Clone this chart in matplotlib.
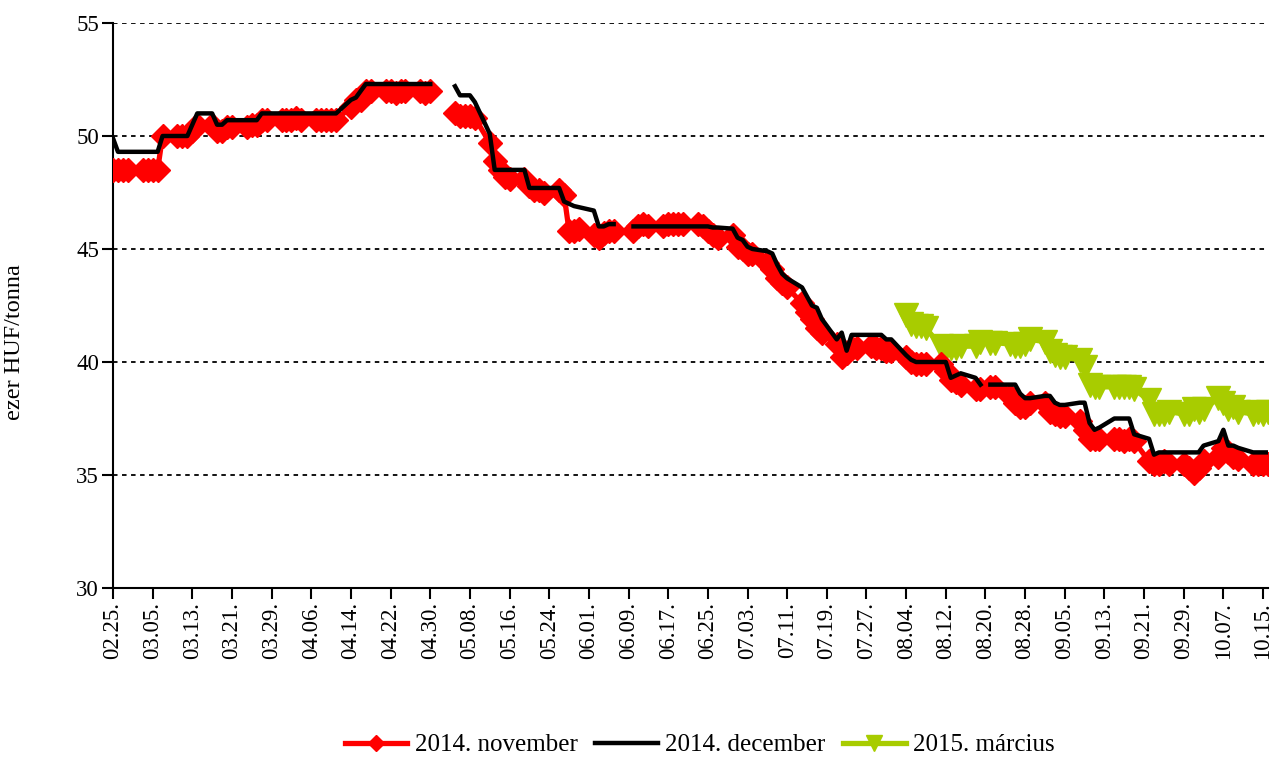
import numpy as np
import pandas as pd
import matplotlib
matplotlib.use('Agg')
import matplotlib.pyplot as plt

plt.rcParams['font.family'] = ['Liberation Serif', 'DejaVu Serif']

nan = np.nan

# trading days 2014.02.25 - 2014.10.16
dates = pd.bdate_range('2014-02-25', '2014-10-16')

# 2014. november contract
nov_feb = [48.5, 48.5, 48.5, 48.5]
nov_mar = [48.5, 48.5, 48.5, 48.5, 50.0, 50.0, 50.0, 50.0, 50.2, 50.5,
           50.5, 50.2, 50.2, 50.4, 50.4, 50.4, 50.5, 50.5, 50.7, 50.7, 50.7]
nov_apr = [50.7, 50.7, 50.8, 50.7, 50.7, 50.7, 50.7, 50.7, 50.7, 51.3, 51.6,
           51.6, 52.0, 52.0, 52.0, 52.0, 51.9, 52.0, 52.0, 52.0, 51.9, 52.0]
nov_may = [nan, nan, 51.0, 50.9, 50.9, 50.9, 50.8, 49.7, 48.9, 48.5, 48.2,
           48.1, 48.1, 47.8, 47.6, 47.6, 47.5, 47.6, 47.4, 45.8, 45.8, 45.9]
nov_jun = [45.6, 45.5, 45.7, 45.8, 45.8, nan, 45.8, 46.0, 46.1, 46.0, 46.0,
           46.1, 46.1, 46.1, 46.1, 46.1, 46.0, 45.8, 45.6, 45.5, 45.6]
nov_jul = [45.1, 45.0, 44.8, 44.8, 44.4, 44.1, 43.7, 43.5, 43.3, 42.6, 42.2,
           41.9, 41.5, 41.3, 40.8, 40.2, 40.4, 40.6, 40.6, 40.7, 40.6, 40.6, 40.5]
nov_aug = [40.5, 40.2, 40.0, 39.9, 39.9, 39.9, 39.9, 39.6, 39.2, 39.1, 39.0,
           38.8, 38.8, nan, 38.9, 38.9, 38.5, 38.2, 38.0, 38.0, 38.2]
nov_sep = [38.2, 37.8, 37.7, 37.6, 37.6, 37.4, 37.0, 36.6, 36.6, 36.6, 36.6,
           36.6, 36.5, 36.6, 36.5, 35.6, 35.5, 35.5, 35.6, 35.5, 35.5, 35.3]
nov_oct = [35.1, 35.3, 35.6, 35.8, 36.2, 36.0, 35.8, 35.7, 35.5, 35.5, 35.5, 35.5]

# 2014. december contract
dec_feb = [49.9, 49.3, 49.3, 49.3]
dec_mar = [49.3, 49.3, 49.3, 49.3, 50.0, 50.0, 50.0, 50.0, 50.5, 51.0,
           51.0, 50.5, 50.5, 50.7, 50.7, 50.7, 50.7, 50.7, 51.0, 51.0, 51.0]
dec_apr = [51.0, 51.0, 51.0, 51.0, 51.0, 51.0, 51.0, 51.0, 51.0, 51.6, 51.7,
           52.0, 52.3, 52.3, 52.3, 52.3, 52.3, 52.3, 52.3, 52.3, 52.3, 52.3]
dec_may = [nan, nan, 52.2, 51.8, 51.8, 51.8, 51.5, 50.1, 48.5, 48.5, 48.5,
           48.5, 48.5, 47.7, 47.7, 47.7, 47.7, 47.7, 47.1, 47.0, 46.9, 46.85]
dec_jun = [46.7, 46.0, 46.0, 46.1, 46.1, nan, 46.0, 46.0, 46.0, 46.0, 46.0,
           46.0, 46.0, 46.0, 46.0, 46.0, 46.0, 46.0, 45.95, 45.95, 45.9]
dec_jul = [45.5, 45.4, 45.1, 45.0, 44.9, 44.8, 44.3, 43.9, 43.7, 43.3, 42.9,
           42.5, 42.4, 41.9, 41.0, 41.3, 40.5, 41.2, 41.2, 41.2, 41.2, 41.2, 41.0]
dec_aug = [41.0, 40.3, 40.1, 40.0, 40.0, 40.0, 40.0, 40.0, 39.3, 39.4, 39.5,
           39.3, 39.0, nan, 39.0, 39.0, 39.0, 39.0, 38.6, 38.4, 38.4]
dec_sep = [38.5, 38.5, 38.2, 38.1, 38.1, 38.2, 38.2, 37.3, 37.0, 37.1, 37.5,
           37.5, 37.5, 37.5, 36.8, 36.6, 35.9, 36.0, 36.0, 36.0, 36.0, 36.0]
dec_oct = [36.0, 36.0, 36.3, 36.5, 37.0, 36.3, 36.3, 36.2, 36.0, 36.0, 36.0, 36.0]

# 2015. március contract (from 2014.08.04)
mar_aug = [42.1, 41.7, 41.6, 41.6, 41.5, 40.7, 40.6, 40.6, 40.6, 40.7,
           40.7, 40.9, nan, 40.85, 40.85, 40.8, 40.7, 40.7, 40.8, 41.0]
mar_sep = [40.9, 40.5, 40.3, 40.2, 40.2, 40.1, 39.8, 39.0, 38.9, 38.9, 38.9,
           38.9, 38.9, 38.9, 38.8, 38.3, 37.7, 37.7, 37.7, 37.8, 37.7, 37.7]
mar_oct = [37.9, 37.8, 37.9, 38.4, 38.2, 37.9, 38.0, 37.8, 37.7, 37.8, 37.7, 37.8]

nov = np.array(nov_feb + nov_mar + nov_apr + nov_may + nov_jun + nov_jul
               + nov_aug + nov_sep + nov_oct, dtype=float)
dec = np.array(dec_feb + dec_mar + dec_apr + dec_may + dec_jun + dec_jul
               + dec_aug + dec_sep + dec_oct, dtype=float)
mar15 = np.array(mar_aug + mar_sep + mar_oct, dtype=float)

labels = ['2014. november', '2014. december', '2015. március']

fig = plt.figure(figsize=(12.7, 7.58), dpi=100)
ax = fig.add_axes([113/1270, 1-588/758, (1268-113)/1270, (588-23)/758])

ax.plot(dates, nov, color='#FF0000', lw=3.8, marker='D', ms=12,
        mec='#FF0000', mfc='#FF0000', label=labels[0], zorder=3)
ax.plot(dates, dec, color='black', lw=3.2, label=labels[1], zorder=4)
ax.plot(dates[-len(mar15):], mar15, color='#A8CC00', lw=3.8, marker='v',
        ms=17, mec='#A8CC00', mfc='#A8CC00', label=labels[2], zorder=2)

ax.set_ylim(30, 55)
ax.set_yticks(range(30, 56, 5))
ax.set_xlim(dates[0], dates[-1])
ticks = pd.date_range('2014-02-25', '2014-10-16', freq='8D')
ax.set_xticks(ticks)
ax.set_xticklabels([t.strftime('%m.%d.') for t in ticks], rotation=90)

for v in range(35, 56, 5):
    ax.axhline(v, color='black', lw=1.3, ls=(0, (2.5, 2.5)), zorder=1)

ax.spines['top'].set_visible(False)
ax.spines['right'].set_visible(False)
ax.spines['left'].set_linewidth(1.5)
ax.spines['bottom'].set_linewidth(1.5)
ax.tick_params(axis='both', labelsize=16.5, direction='out', length=8, width=1.5)
ax.tick_params(axis='x', pad=2)
ax.tick_params(axis='y', pad=2)

fig.text(15/1270, 1-342/758, 'ezer HUF/tonna', rotation=90, fontsize=17.5,
         ha='center', va='center')

leg = fig.legend(loc='center', bbox_to_anchor=(0.551, 1-745/758), ncol=3,
                 frameon=False, fontsize=18, handlelength=2.5,
                 columnspacing=0.7, handletextpad=0.3, borderpad=0)
for h in leg.legend_handles:
    h.set_markersize(h.get_markersize() * 0.7)

fig.savefig('out.png', dpi=100)
